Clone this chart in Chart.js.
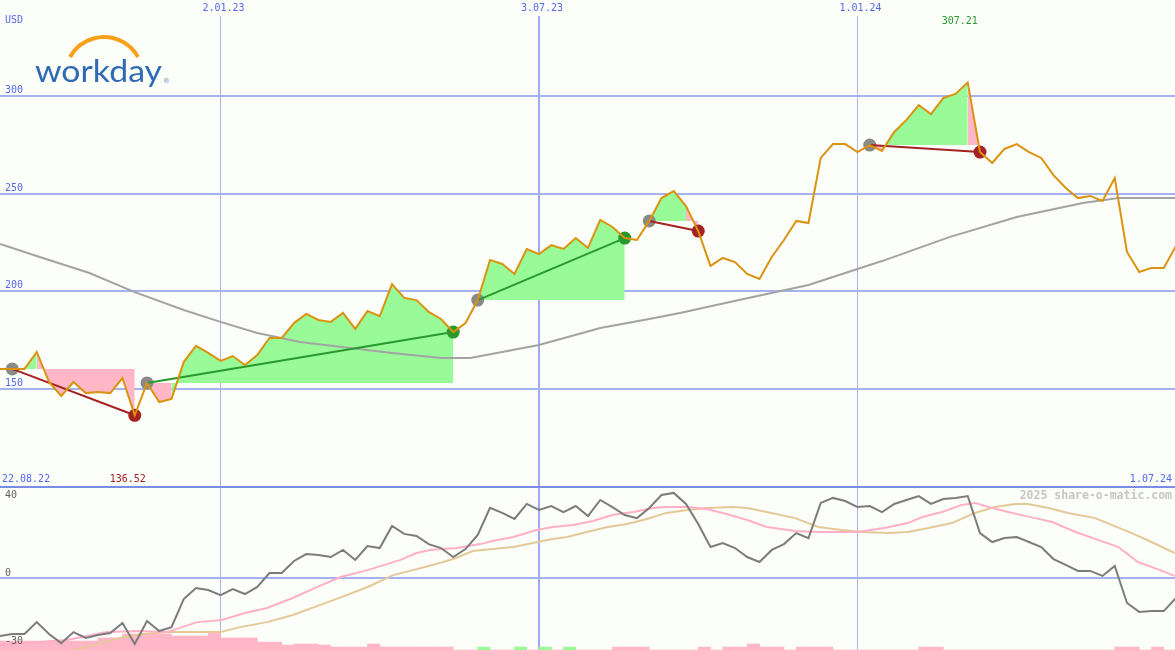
<!DOCTYPE html>
<html>
<head>
<meta charset="utf-8">
<script src="https://cdn.jsdelivr.net/npm/chart.js@4.4.1/dist/chart.umd.min.js"></script>
<style>
  html, body { margin: 0; padding: 0; background: #fcfefa; }
  #wrap { position: relative; width: 1175px; height: 650px; }
  canvas { position: absolute; left: 0; }
  #priceChart { top: 0; }
  #oscChart { top: 487px; }
  #sep { position: absolute; left: 0; top: 486px; width: 1175px; height: 2px; background: #7b8ce8; }
</style>
</head>
<body>
<div id="wrap">
  <canvas id="priceChart" width="1175" height="487"></canvas>
  <canvas id="oscChart" width="1175" height="163"></canvas>
  <div id="sep"></div>
</div>
<script>
// weekly closes, 22.08.22 .. 1.07.24 (USD)
const price = [
  160.3, 160.3, 160.3, 169.0, 153.6, 146.4, 153.6, 147.9, 148.5, 147.9,
  155.6, 136.52, 153.1, 143.3, 144.9, 163.8, 172.1, 168.5, 164.4, 166.9,
  162.3, 167.4, 176.2, 176.2, 183.8, 188.5, 185.4, 184.4, 189.0, 180.8,
  190.0, 187.4, 203.8, 196.7, 195.6, 189.5, 185.9, 179.2, 183.8, 195.6,
  216.2, 214.1, 209.0, 221.8, 219.2, 223.8, 221.8, 227.4, 222.3, 236.7,
  233.1, 227.4, 226.4, 236.2, 247.9, 251.5, 243.8, 231.0, 213.1, 217.2,
  215.1, 209.0, 206.4, 217.7, 226.4, 236.2, 235.1, 268.5, 275.6, 275.6,
  271.5, 275.1, 272.1, 281.8, 288.0, 295.6, 291.0, 299.2, 301.3, 307.21,
  271.5, 265.9, 273.1, 275.6, 271.5, 268.5, 259.7, 253.1, 247.9, 249.0,
  246.4, 258.2, 220.3, 210.0, 212.1, 212.1, 223.3
];

// long moving average (read at a few weeks)
const maWeek  = [0, 3.5, 7.3, 11, 15, 18, 21, 24.5, 28.6, 32, 36, 38.4, 44, 49, 53, 55.5, 60.7, 66, 72, 77.5, 83, 88.4, 91.3, 96];
const maValue = [224.4, 217.2, 209.5, 199.7, 190.5, 184.4, 178.7, 174.1, 171.0, 168.5, 165.9, 165.9, 172.6, 181.3, 185.9, 189.0, 196.2, 203.3, 215.6, 227.9, 238.2, 245.4, 247.9, 247.9];

// trades (week index of entry / exit)
const tradeEntry = [1, 12, 39, 53, 71];
const tradeExit  = [11, 37, 51, 57, 80];

// lower panel
const osc = [
  -27.9, -26.9, -26.9, -21.2, -26.9, -31.3, -26.0, -28.8, -27.4, -26.4,
  -21.6, -31.7, -20.7, -25.5, -23.6, -10.1, -4.8, -5.8, -8.2, -5.3,
  -7.7, -4.3, 2.4, 2.4, 8.2, 11.5, 11.1, 10.1, 13.5, 8.7,
  15.4, 14.4, 25.0, 21.2, 20.2, 16.3, 14.4, 10.1, 13.9, 20.7,
  33.7, 31.3, 28.4, 35.6, 32.7, 34.6, 31.7, 34.6, 29.8, 37.5,
  34.1, 30.3, 28.8, 33.7, 39.9, 40.9, 35.6, 26.0, 14.9, 16.8,
  14.4, 10.1, 7.7, 13.5, 16.3, 21.6, 19.2, 36.1, 38.5, 37.0,
  34.1, 34.6, 31.7, 35.6, 37.5, 39.4, 35.6, 38.0, 38.5, 39.4,
  21.6, 17.3, 19.2, 19.7, 17.3, 14.9, 9.1, 6.3, 3.4, 3.4,
  1.0, 5.8, -12.0, -16.3, -15.9, -15.9, -9.6
];

const fastWeek = [0, 5.47, 8.73, 11.18, 13.6, 16.1, 18.1, 20.0, 21.8, 23.9, 26.1, 27.8, 30.0, 32.7, 34.0, 35.1, 37.3, 39.2, 40.2, 41.9, 43.8, 45.1, 46.8, 48.4, 50.0, 51.7, 53.3, 54.4, 56.1, 57.7, 59.3, 61.0, 62.6, 64.9, 66.8, 70.0, 72.2, 74.1, 75.3, 76.9, 78.5, 79.6, 80.7, 82.3, 84.5, 85.9, 87.8, 89.4, 91.3, 92.9, 94.5, 95.9];
const fastValue = [-32.2, -29.8, -26.0, -25.5, -26.0, -21.2, -20.2, -16.8, -14.4, -9.6, -3.8, 0.5, 3.8, 8.7, 12.0, 13.5, 14.4, 16.3, 17.8, 19.7, 23.1, 24.5, 25.5, 27.4, 30.3, 31.7, 33.7, 34.1, 34.1, 33.2, 30.8, 27.9, 24.5, 22.6, 22.1, 22.1, 24.0, 26.4, 29.3, 31.7, 35.1, 36.1, 34.1, 31.7, 28.8, 26.9, 22.1, 18.8, 14.9, 7.7, 4.3, 1.0];

const slowWeek = [4.9, 6.4, 8.2, 9.8, 11.7, 13.6, 15.3, 18.0, 19.6, 21.8, 23.9, 26.1, 28.3, 30.0, 32.1, 33.7, 35.3, 37.0, 38.6, 40.2, 41.9, 43.5, 45.1, 46.3, 47.9, 49.6, 51.2, 52.8, 54.4, 56.1, 57.7, 59.8, 61.0, 62.6, 64.9, 66.8, 68.7, 70.4, 72.5, 74.1, 75.8, 77.7, 79.6, 81.2, 82.9, 83.9, 85.6, 87.2, 89.4, 90.2, 92.4, 94.0, 95.9];
const slowValue = [-37.5, -34.1, -31.3, -28.8, -26.9, -26.0, -26.0, -26.0, -23.6, -21.2, -17.8, -13.0, -8.2, -4.3, 1.4, 3.8, 6.3, 9.1, 13.0, 13.9, 14.9, 16.8, 18.8, 19.7, 22.1, 24.5, 26.0, 28.4, 31.3, 32.7, 33.7, 34.1, 33.7, 31.7, 28.8, 24.5, 23.1, 22.1, 21.6, 22.1, 24.0, 26.4, 31.3, 34.1, 35.6, 35.6, 33.7, 31.3, 28.8, 26.9, 21.6, 17.3, 12.0];

// histogram at the bottom (negative = pink, positive = green)
const hist = [
  -4.3, -4.3, -4.3, -4.3, -4.3, -4.3, -4.3, -4.3, -5.8, -5.8,
  -7.7, -7.7, -7.7, -7.7, -6.7, -6.7, -6.7, -8.7, -5.8, -5.8,
  -5.8, -3.8, -3.8, -2.4, -2.9, -2.9, -2.4, -1.4, -1.4, -1.4,
  -2.9, -1.4, -1.4, -1.4, -1.4, -1.4, -1.4, 0, 0, 1.4,
  0, 0, 1.4, 0, 1.4, 0, 1.4, 0, 0, 0,
  -1.4, -1.4, -1.4, 0, 0, 0, 0, -1.4, 0, -1.4,
  -1.4, -2.9, -1.4, -1.4, 0, -1.4, -1.4, -1.4, 0, 0,
  0, 0, 0, 0, 0, -1.4, -1.4, 0, 0, 0,
  0, 0, 0, 0, 0, 0, 0, 0, 0, 0,
  0, -1.4, -1.4, 0, -1.4, 0, 0
];

// axis labels
const dateWeeks  = [18, 44, 70];
const dateLabels = ['2.01.23', '3.07.23', '1.01.24'];
const priceTicks = [150, 200, 250, 300];
const xMax = 95.92;

const TXT_BLUE = '#5468ee';
const MONO = '10px "DejaVu Sans Mono"';
const GREEN_FILL = '#98fb98';
const PINK_FILL = '#ffb6c6';
const WIN = '#28992a';
const LOSS = '#a52222';

const pts = (xs, ys) => ys.map((v, i) => ({ x: xs ? xs[i] : i, y: v }));

const xScale = () => ({
  type: 'linear', min: 0, max: xMax, offset: false,
  afterBuildTicks: s => { s.ticks = dateWeeks.map(v => ({ value: v })); },
  afterFit: s => { s.height = 0; },
  ticks: { display: false },
  border: { display: false },
  grid: {
    drawTicks: false, offset: false,
    color: c => c.tick && c.tick.value === 44 ? '#9eaaf2' : '#b0b5e2',
    lineWidth: c => c.tick && c.tick.value === 44 ? 2 : 1
  }
});

// ---------- upper panel ----------
const fillRuns = [];

tradeEntry.forEach((e, t) => {
  const exit = tradeExit[t];
  const level = price[e];
  let run = null;
  for (let j = e; j < exit; j++) {
    const end = price[j + 1];
    const col = end > level ? GREEN_FILL : end < level ? PINK_FILL : null;
    if (run && run.col === col) {
      run.data.push({ x: j + 1, y: end });
    } else {
      if (run && run.col) fillRuns.push(run);
      run = { col, level, data: [{ x: j, y: price[j] }, { x: j + 1, y: end }] };
    }
  }
  if (run && run.col) fillRuns.push(run);
});

const fillDatasets = fillRuns.map(r => ({
  data: r.data,
  fill: { value: r.level },
  backgroundColor: r.col,
  borderColor: 'rgba(0,0,0,0)',
  borderWidth: 0,
  pointRadius: 0,
  order: 50
}));

const tradeLines = tradeEntry.map((e, t) => {
  const x = tradeExit[t];
  return {
    data: [{ x: e, y: price[e] }, { x: x, y: price[x] }],
    borderColor: price[x] > price[e] ? WIN : LOSS,
    borderWidth: 2,
    pointRadius: 0,
    order: 20
  };
});

const markerPts = [], markerCols = [];
tradeEntry.forEach((e, t) => {
  const x = tradeExit[t];
  markerPts.push({ x: e, y: price[e] });
  markerCols.push('#8a8a8a');
  markerPts.push({ x: x, y: price[x] });
  markerCols.push(price[x] > price[e] ? WIN : LOSS);
});

const priceDecor = {
  id: 'priceDecor',
  afterDraw(chart) {
    const { ctx, scales: { x, y } } = chart;
    ctx.save();
    ctx.font = MONO;
    ctx.textBaseline = 'middle';
    ctx.fillStyle = TXT_BLUE;
    ctx.textAlign = 'left';
    ctx.fillText('USD', 5, 20);
    priceTicks.forEach(v => ctx.fillText(String(v), 5, y.getPixelForValue(v) - 6));
    ctx.fillText('22.08.22', 2, 479);
    ctx.textAlign = 'right';
    ctx.fillText('1.07.24', 1172, 479);
    ctx.textAlign = 'center';
    dateLabels.forEach((d, k) => ctx.fillText(d, x.getPixelForValue(dateWeeks[k]) + 3, 8));

    // high / low of the period
    let hi = 0, lo = 0;
    price.forEach((v, i) => { if (v > price[hi]) hi = i; if (v < price[lo]) lo = i; });
    ctx.fillStyle = WIN;
    ctx.fillText(price[hi].toFixed(2), x.getPixelForValue(hi) - 8, 21);
    ctx.fillStyle = LOSS;
    ctx.fillText(price[lo].toFixed(2), x.getPixelForValue(lo) - 7, 479);

    // logo
    ctx.strokeStyle = '#f5a11c';
    ctx.lineWidth = 4;
    ctx.beginPath();
    ctx.arc(104, 76, 39, -2.63, -0.51);
    ctx.stroke();
    ctx.font = '31px Lato';
    ctx.textAlign = 'left';
    ctx.textBaseline = 'alphabetic';
    ctx.fillStyle = '#2f6bb4';
    const w = ctx.measureText('workday').width;
    ctx.save();
    ctx.translate(35, 82);
    ctx.scale(127 / w, 1);
    ctx.fillText('workday', 0, 0);
    ctx.restore();
    ctx.font = '7px "DejaVu Sans"';
    ctx.fillStyle = '#6d8fc8';
    ctx.fillText('\u00AE', 163, 83);
    ctx.restore();
  }
};

new Chart(document.getElementById('priceChart'), {
  type: 'line',
  data: {
    datasets: [
      ...fillDatasets,
      {
        data: pts(maWeek, maValue),
        borderColor: '#a3a3a3', borderWidth: 2, pointRadius: 0, order: 40
      },
      {
        data: markerPts, showLine: false,
        pointRadius: 6.5, pointBorderWidth: 0,
        pointBackgroundColor: markerCols, order: 30
      },
      ...tradeLines,
      {
        data: pts(null, price),
        borderColor: '#db930f', borderWidth: 2, pointRadius: 0, order: 10
      }
    ]
  },
  options: {
    responsive: false,
    animation: false,
    events: [],
    layout: { autoPadding: false, padding: { top: 16, left: 0, right: 0, bottom: 0 } },
    plugins: { legend: { display: false }, tooltip: { enabled: false } },
    elements: { line: { tension: 0 } },
    scales: {
      x: xScale(),
      y: {
        min: 99.74, max: 341.28,
        afterBuildTicks: s => { s.ticks = priceTicks.map(v => ({ value: v })); },
        afterFit: s => { s.width = 0; },
        ticks: { display: false },
        border: { display: false },
        grid: { drawTicks: false, color: '#a4b2f2', lineWidth: 2 }
      }
    }
  },
  plugins: [priceDecor]
});

// ---------- lower panel ----------
const oscDecor = {
  id: 'oscDecor',
  afterDraw(chart) {
    const { ctx, scales: { y } } = chart;
    ctx.save();
    ctx.font = MONO;
    ctx.textBaseline = 'middle';
    ctx.textAlign = 'left';
    ctx.fillStyle = '#606060';
    ctx.fillText('40', 5, y.getPixelForValue(40) + 1);
    ctx.fillText('0', 5, y.getPixelForValue(0) - 5);
    ctx.fillText('-30', 5, y.getPixelForValue(-30) + 1);
    ctx.font = 'bold 11.5px "DejaVu Sans Mono"';
    ctx.fillStyle = '#c6c6c6';
    ctx.textAlign = 'right';
    ctx.fillText('2025 share-o-matic.com', 1172, 9);
    ctx.restore();
  }
};

new Chart(document.getElementById('oscChart'), {
  type: 'line',
  data: {
    datasets: [
      {
        type: 'bar',
        data: hist.map((v, i) => ({ x: i + 0.5, y: Math.abs(v) })),
        backgroundColor: hist.map(v => v > 0 ? GREEN_FILL : PINK_FILL),
        borderWidth: 0,
        barPercentage: 1, categoryPercentage: 1,
        yAxisID: 'yh', order: 50
      },
      {
        data: pts(slowWeek, slowValue),
        borderColor: '#e5c897', borderWidth: 2, pointRadius: 0, order: 30
      },
      {
        data: pts(fastWeek, fastValue),
        borderColor: '#ffb0c6', borderWidth: 2, pointRadius: 0, order: 20
      },
      {
        data: pts(null, osc),
        borderColor: '#7c7c7c', borderWidth: 2, pointRadius: 0, order: 10
      }
    ]
  },
  options: {
    responsive: false,
    animation: false,
    events: [],
    layout: { autoPadding: false, padding: 0 },
    plugins: { legend: { display: false }, tooltip: { enabled: false } },
    elements: { line: { tension: 0 } },
    scales: {
      x: xScale(),
      y: {
        min: -34.6, max: 43.75,
        afterBuildTicks: s => { s.ticks = [{ value: 0 }]; },
        afterFit: s => { s.width = 0; },
        ticks: { display: false },
        border: { display: false },
        grid: { drawTicks: false, color: '#a4b2f2', lineWidth: 2 }
      },
      yh: { display: false, min: 0, max: 78.35 }
    }
  },
  plugins: [oscDecor]
});
</script>
</body>
</html>
